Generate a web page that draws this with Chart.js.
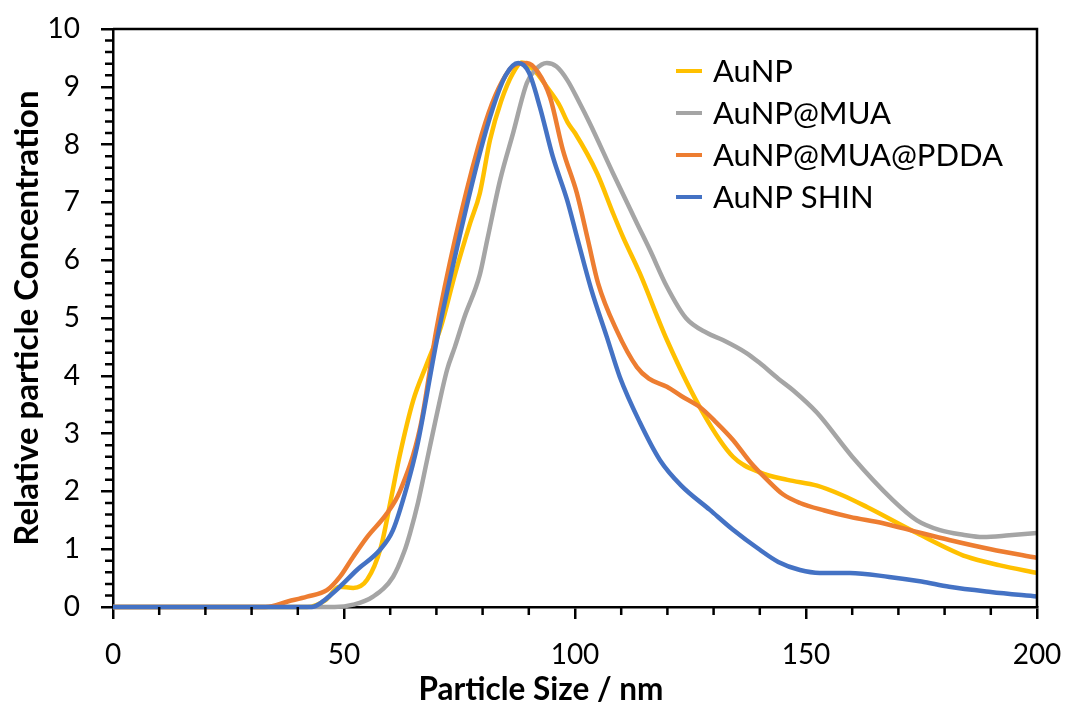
<!DOCTYPE html>
<html>
<head>
<meta charset="utf-8">
<script src="https://cdn.jsdelivr.net/npm/chart.js@4"></script>
<style>
  html, body { margin: 0; padding: 0; background: #fff; }
  #wrap { width: 1067px; height: 709px; }
</style>
</head>
<body>
<div id="wrap"><canvas id="sizeChart" width="1067" height="709"></canvas></div>
<script>
// Series labels
const seriesNames = ["AuNP", "AuNP@MUA", "AuNP@MUA@PDDA", "AuNP SHIN"];

// AuNP (yellow)
const auNpX = [0, 42, 46, 49, 52, 55, 58, 60, 62, 65, 68, 71, 74, 77.3, 79.4, 81.6, 84, 86.6, 88.5, 91, 93.9, 96.5, 98.5, 100, 104.8, 108.2, 110.4, 114, 119.9, 127.7, 134.2, 140, 146, 152.4, 158, 163.2, 174, 184.8, 192, 200];
const auNpY = [0, 0, 0.12, 0.35, 0.33, 0.47, 1.04, 1.8, 2.6, 3.58, 4.22, 4.85, 5.75, 6.64, 7.16, 8.08, 8.75, 9.24, 9.42, 9.3, 9.0, 8.7, 8.37, 8.2, 7.5, 6.82, 6.4, 5.78, 4.62, 3.36, 2.6, 2.33, 2.2, 2.1, 1.93, 1.73, 1.28, 0.87, 0.72, 0.59];

// AuNP@MUA (grey)
const muaX = [0, 48, 52, 56.3, 60.6, 63, 64.3, 66, 68, 70, 72.3, 74, 76, 79.4, 81, 83.8, 86.6, 89.6, 91.5, 93.9, 96, 98.3, 101, 103.2, 108.2, 113.4, 116.2, 119.9, 124, 128.6, 132, 137.2, 140, 144, 147.2, 152.4, 160, 168.8, 174, 179, 184, 188.3, 194, 200];
const muaY = [0, 0, 0.04, 0.18, 0.52, 0.95, 1.28, 1.8, 2.55, 3.3, 4.1, 4.5, 5.0, 5.75, 6.35, 7.39, 8.2, 9.07, 9.3, 9.41, 9.35, 9.12, 8.72, 8.37, 7.51, 6.64, 6.18, 5.54, 5.0, 4.74, 4.62, 4.39, 4.22, 3.95, 3.75, 3.36, 2.6, 1.85, 1.5, 1.33, 1.25, 1.21, 1.24, 1.28];

// AuNP@MUA@PDDA (orange)
const pddaX = [0, 33, 38, 42, 46.3, 49.1, 52, 55, 59.3, 62.1, 66.5, 70, 74, 79, 82, 85, 87, 89.6, 92, 94.6, 97.4, 100.4, 102.8, 105, 109, 113.4, 116, 119.9, 123, 127, 130.5, 134.2, 138, 141.6, 145, 148.7, 154, 159.5, 166.7, 174, 181, 190, 200];
const pddaY = [0, 0, 0.1, 0.18, 0.29, 0.52, 0.87, 1.21, 1.62, 2.0, 3.11, 4.8, 6.35, 7.95, 8.7, 9.2, 9.38, 9.41, 9.25, 8.82, 7.9, 7.16, 6.35, 5.6, 4.79, 4.15, 3.95, 3.81, 3.65, 3.46, 3.2, 2.89, 2.5, 2.2, 1.95, 1.8, 1.67, 1.56, 1.45, 1.3, 1.16, 1.0, 0.85];

// AuNP SHIN (blue)
const shinX = [0, 43, 45.5, 47, 49.1, 52.8, 57.8, 60.6, 63.6, 65.8, 70.1, 74.5, 79.4, 82.3, 85, 87.7, 90, 92.4, 95.2, 98.3, 100.6, 103.5, 106.9, 109.7, 114, 118.4, 123, 129.2, 134, 140, 144, 148.7, 153, 159.5, 168, 175, 181, 190, 200];
const shinY = [0, 0, 0.1, 0.2, 0.35, 0.64, 0.99, 1.33, 2.08, 2.77, 4.62, 6.23, 7.85, 8.65, 9.2, 9.41, 9.25, 8.65, 7.79, 7.04, 6.35, 5.5, 4.67, 3.98, 3.2, 2.54, 2.1, 1.68, 1.35, 0.99, 0.78, 0.64, 0.59, 0.59, 0.52, 0.44, 0.35, 0.26, 0.18];

// Axis ticks
const xMajorTicks = [0, 50, 100, 150, 200];
const yMajorTicks = [0, 1, 2, 3, 4, 5, 6, 7, 8, 9, 10];
const xTitle = "Particle Size / nm";

const colors = ["#FFC000", "#A5A5A5", "#ED7D31", "#4472C4"];
const FONT = "Lato, 'Open Sans', sans-serif";

function toPoints(xs, ys) {
    return xs.map(function (x, i) { return { x: x, y: ys[i] }; });
}

const allX = [auNpX, muaX, pddaX, shinX];
const allY = [auNpY, muaY, pddaY, shinY];

const datasets = seriesNames.map(function (name, i) {
    return {
        label: name,
        data: toPoints(allX[i], allY[i]),
        borderColor: colors[i],
        backgroundColor: colors[i],
        borderWidth: 4.5,
        pointRadius: 0,
        cubicInterpolationMode: "monotone",
        clip: false,
        // later series sit on top, as in the original
        order: seriesNames.length - i
    };
});

// minor ticks, top/right frame, x title and the legend
const extras = {
    id: "extras",
    afterDraw: function (chart) {
        const c = chart.ctx;
        const a = chart.chartArea;
        const xs = chart.scales.x;
        const ys = chart.scales.y;
        c.save();
        c.strokeStyle = "#000";
        c.lineWidth = 2.5;
        c.beginPath();
        for (let v = 0; v <= 200; v += 10) {
            if (v % 50 === 0) continue;
            const px = xs.getPixelForValue(v);
            c.moveTo(px, a.bottom);
            c.lineTo(px, a.bottom + 8);
        }
        for (let k = 0; k <= 50; k++) {
            if (k % 5 === 0) continue;
            const py = ys.getPixelForValue(k / 5);
            c.moveTo(a.left - 8, py);
            c.lineTo(a.left, py);
        }
        c.moveTo(a.left, a.top);
        c.lineTo(a.right, a.top);
        c.lineTo(a.right, a.bottom);
        c.stroke();

        // x axis title (sits a bit left of the plot centre in the original)
        c.fillStyle = "#000";
        c.font = "bold 31.5px " + FONT;
        c.textAlign = "center";
        c.textBaseline = "middle";
        c.fillText(xTitle, 541, 690);

        // legend
        c.font = "31px " + FONT;
        c.textAlign = "left";
        chart.data.datasets.forEach(function (ds, i) {
            const y = 71 + i * 42;
            c.strokeStyle = ds.borderColor;
            c.lineWidth = 4;
            c.beginPath();
            c.moveTo(676, y);
            c.lineTo(702, y);
            c.stroke();
            c.fillText(ds.label, 713, y + 1);
        });
        c.restore();
    }
};

new Chart(document.getElementById("sizeChart").getContext("2d"), {
    type: "line",
    data: { datasets: datasets },
    options: {
        responsive: false,
        animation: false,
        layout: { padding: { top: 29, right: 30, left: 0, bottom: 0 } },
        plugins: {
            legend: { display: false },
            tooltip: { enabled: false }
        },
        scales: {
            x: {
                type: "linear",
                min: 0,
                max: 200,
                afterBuildTicks: function (s) {
                    s.ticks = xMajorTicks.map(function (v) { return { value: v }; });
                },
                afterFit: function (s) {
                    s.height = 102;
                    s.paddingLeft = 0;
                    s.paddingRight = 0;
                },
                grid: { drawOnChartArea: false, drawTicks: true, tickLength: 12, color: "#000", lineWidth: 2.5 },
                border: { display: true, color: "#000", width: 2.5 },
                ticks: { color: "#000", font: { family: FONT, size: 28 }, padding: 19, maxRotation: 0 },
                title: { display: false }
            },
            y: {
                min: 0,
                max: 10,
                afterBuildTicks: function (s) {
                    s.ticks = yMajorTicks.map(function (v) { return { value: v }; });
                },
                afterFit: function (s) {
                    s.width = 113;
                    s.paddingTop = 0;
                    s.paddingBottom = 0;
                },
                grid: { drawOnChartArea: false, drawTicks: true, tickLength: 12, color: "#000", lineWidth: 2.5 },
                border: { display: true, color: "#000", width: 2.5 },
                ticks: { color: "#000", font: { family: FONT, size: 28 }, padding: 21 },
                title: { display: true, text: "Relative particle Concentration", color: "#000", font: { family: FONT, size: 33, weight: "bold" }, padding: { top: 8, bottom: 0 } }
            }
        }
    },
    plugins: [extras]
});
</script>
</body>
</html>
